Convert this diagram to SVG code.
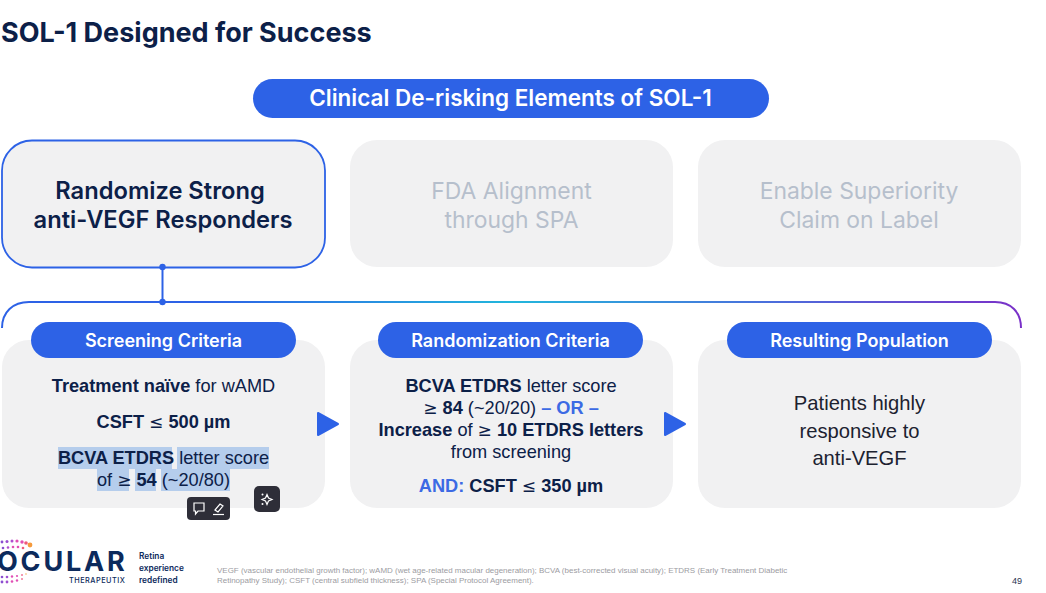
<svg xmlns="http://www.w3.org/2000/svg" width="1046" height="593" viewBox="0 0 1046 593">
<style>
text{font-family:"Liberation Sans",Arial,sans-serif}
.in{font-family:Inter,"Liberation Sans",sans-serif}
.box{fill:#f1f1f2}
.pill{fill:#2d62e6}
.pt{fill:#fff;font-family:Inter,"Liberation Sans",sans-serif;font-weight:600;font-size:18px;text-anchor:middle}
.big{font-family:Inter,"Liberation Sans",sans-serif;font-size:23.7px;text-anchor:middle;font-weight:600;fill:#0c2048}
.gr{font-family:Inter,"Liberation Sans",sans-serif;font-size:22.9px;text-anchor:middle;fill:#b6bfcc}
.b{font-size:18.2px;fill:#0c2048;text-anchor:middle}
.bold{font-weight:700}
.m{font-family:"DejaVu Sans",sans-serif;font-weight:400;font-size:17px}
.acc{fill:#3c6ae4;font-weight:700}
.hl{fill:#b5cdec}
.tri{fill:#2d62e6;stroke:#2d62e6;stroke-width:2;stroke-linejoin:round}
.dot{fill:#2d62e6}
.ln{fill:none;stroke:#2d62e6;stroke-width:2}
.ic{fill:none;stroke:#fff;stroke-width:1.2}
.tb{fill:#2e2e38}
.lg{fill:#0c2a5c}
.p{font-size:20.2px;fill:#1c2230;text-anchor:middle}
</style>
<defs>
<linearGradient id="brk" gradientUnits="userSpaceOnUse" x1="2" y1="0" x2="1021" y2="0">
<stop offset="0" stop-color="#2d62e6"/><stop offset="0.2" stop-color="#2d62e6"/><stop offset="0.5" stop-color="#22b6dc"/><stop offset="0.75" stop-color="#4a6fdc"/><stop offset="1" stop-color="#7a30c8"/>
</linearGradient>
</defs>
<rect width="1046" height="593" fill="#fff"/>
<text class="in" x="1" y="41.500" font-size="27" font-weight="650" fill="#0c2048">SOL-1 Designed for Success</text>
<g id="header"><rect class="pill" x="253" y="79" width="516" height="39" rx="19.5"/><text class="pt" x="510.500" y="105.500" style="font-size:22.5px">Clinical De-risking Elements of SOL-1</text></g>
<g id="node-strong"><rect x="2" y="140.500" width="323" height="127" rx="30" fill="#f1f1f2" stroke="#2d62e6" stroke-width="1.800"/>
<text class="big" x="160" y="199">Randomize Strong</text><text class="big" x="163" y="228">anti-VEGF Responders</text></g>
<g id="node-fda"><rect class="box" x="350" y="140" width="323" height="127" rx="27"/>
<text class="gr" x="511.500" y="199">FDA Alignment</text><text class="gr" x="511.500" y="227.500">through SPA</text></g>
<g id="node-superiority"><rect class="box" x="698" y="140" width="323" height="127" rx="27"/>
<text class="gr" x="859" y="199">Enable Superiority</text><text class="gr" x="859" y="227.500">Claim on Label</text></g>
<g id="node-screening"><rect class="box" x="2" y="340" width="323" height="168" rx="27"/>
<rect class="hl" x="58" y="447" width="114" height="22"/><rect class="hl" x="177" y="447" width="92" height="22"/>
<rect class="hl" x="97" y="469" width="25" height="22"/><rect class="hl" x="117" y="469" width="12" height="22"/><rect class="hl" x="135" y="469" width="21" height="22"/><rect class="hl" x="161" y="469" width="69" height="22"/>
<rect class="pill" x="31" y="322" width="265" height="36" rx="18"/><text class="pt" x="163.500" y="346.500">Screening Criteria</text>
<text class="b" x="163.500" y="392"><tspan class="bold">Treatment naïve</tspan> for wAMD</text>
<text class="b" x="163.500" y="428"><tspan class="bold">CSFT </tspan><tspan class="m">≤</tspan><tspan class="bold"> 500 µm</tspan></text>
<text class="b" x="163.500" y="464"><tspan class="bold">BCVA ETDRS</tspan> letter score</text>
<text class="b" x="163.500" y="486">of <tspan class="m">≥</tspan> <tspan class="bold">54</tspan> (~20/80)</text></g>
<g id="node-randomization"><rect class="box" x="350" y="340" width="323" height="168" rx="27"/>
<rect class="pill" x="378" y="322" width="265" height="36" rx="18"/><text class="pt" x="510.500" y="346.500">Randomization Criteria</text>
<text class="b" x="511" y="392"><tspan class="bold">BCVA ETDRS</tspan> letter score</text>
<text class="b" x="511" y="414"><tspan class="m">≥</tspan><tspan class="bold"> 84</tspan> (~20/20) <tspan class="acc">– OR –</tspan></text>
<text class="b" x="511" y="436"><tspan class="bold">Increase</tspan> of <tspan class="m">≥</tspan><tspan class="bold"> 10 ETDRS letters</tspan></text>
<text class="b" x="511" y="458">from screening</text>
<text class="b" x="511" y="491.500"><tspan class="acc">AND:</tspan> <tspan class="bold">CSFT </tspan><tspan class="m">≤</tspan><tspan class="bold"> 350 µm</tspan></text></g>
<g id="node-population"><rect class="box" x="698" y="340" width="323" height="168" rx="27"/>
<rect class="pill" x="727" y="322" width="265" height="36" rx="18"/><text class="pt" x="859.500" y="346.500">Resulting Population</text>
<text class="p" x="859.500" y="410">Patients highly</text>
<text class="p" x="859.500" y="438">responsive to</text>
<text class="p" x="859.500" y="465">anti-VEGF</text></g>
<g id="connectors">
<path d="M2 328C2 312 13 302 29 302H995C1011 302 1021 312 1021 328" fill="none" stroke="url(#brk)" stroke-width="2"/>
<path class="ln" d="M162.500 267V302"/>
<circle class="dot" cx="162.500" cy="267" r="3.200"/><circle class="dot" cx="162.500" cy="302" r="3.200"/>
<path class="tri" d="M318 413V435L338 424Z"/>
<path class="tri" d="M665 413V435L685 424Z"/>
</g>
<g id="toolbar"><rect class="tb" x="187" y="497" width="43" height="23" rx="4"/>
<path class="ic" d="M194 503H204V511H198L195.500 514V511H194Z"/><path class="ic" d="M215 510L220 504L223 506L218 512Z"/><path d="M213 514.500H224" stroke="#fff" stroke-width="1.200"/>
<rect class="tb" x="254" y="486" width="26" height="26" rx="5"/>
<path class="ic" d="M267 494.500L268.500 498L272 499.500L268.500 501L267 504.500L265.500 501L262 499.500L265.500 498Z"/><circle cx="262.500" cy="494.500" r="1" fill="#fff"/><circle cx="262.500" cy="504" r="1" fill="#fff"/></g>
<g id="logo">
<g fill="#e14fb4"><circle cx="2" cy="542" r="1.400" fill="#8a4fd0"/><circle cx="7" cy="541.500" r="1.500" fill="#9b4fd0"/><circle cx="12" cy="541" r="1.500" fill="#b04fd0"/><circle cx="17" cy="541" r="1.600"/><circle cx="22" cy="542" r="1.700"/><circle cx="26" cy="543" r="1.800" fill="#f05a7a"/><circle cx="30" cy="545" r="2.400" fill="#f59a3c"/>
<circle cx="3" cy="548" r="1.300" fill="#8a4fd0"/><circle cx="8" cy="547.500" r="1.300" fill="#b04fd0"/><circle cx="13" cy="547" r="1.300"/><circle cx="18" cy="547" r="1.300"/><circle cx="23" cy="548" r="1.300" fill="#f05a7a"/>
<circle cx="2" cy="577" r="1.300" fill="#8a4fd0"/><circle cx="7" cy="577" r="1.300" fill="#a04fd0"/><circle cx="12" cy="576.500" r="1.200"/><circle cx="17" cy="576" r="1.100"/><circle cx="22" cy="575" r="1" fill="#f07a9a"/><circle cx="26" cy="574" r=".8" fill="#f5b05a"/>
<circle cx="2" cy="582" r="1.400" fill="#8a4fd0"/><circle cx="7" cy="582" r="1.400" fill="#a04fd0"/><circle cx="12" cy="581.500" r="1.300"/><circle cx="17" cy="580.500" r="1.200"/><circle cx="22" cy="579" r="1" fill="#f07a9a"/></g>
<text class="in lg" x="-3" y="571" font-size="27" font-weight="700" letter-spacing="2.800">OCULAR</text>
<text class="in lg" x="69" y="582.500" font-size="7.300" font-weight="500" letter-spacing=".5">THERAPEUTIX</text>
<text class="in lg" x="139" y="559" font-size="8.300" font-weight="600">Retina</text>
<text class="in lg" x="139" y="571" font-size="8.300" font-weight="600">experience</text>
<text class="in lg" x="139" y="582.500" font-size="8.300" font-weight="600">redefined</text>
</g>
<text x="217" y="573" font-size="7.970" fill="#9c9ca2">VEGF (vascular endothelial growth factor); wAMD (wet age-related macular degeneration); BCVA (best-corrected visual acuity); ETDRS (Early Treatment Diabetic</text>
<text x="217" y="583" font-size="7.970" fill="#9c9ca2">Retinopathy Study); CSFT (central subfield thickness); SPA (Special Protocol Agreement).</text>
<text x="1022" y="584" font-size="9" fill="#2a3350" text-anchor="end">49</text>
</svg>
